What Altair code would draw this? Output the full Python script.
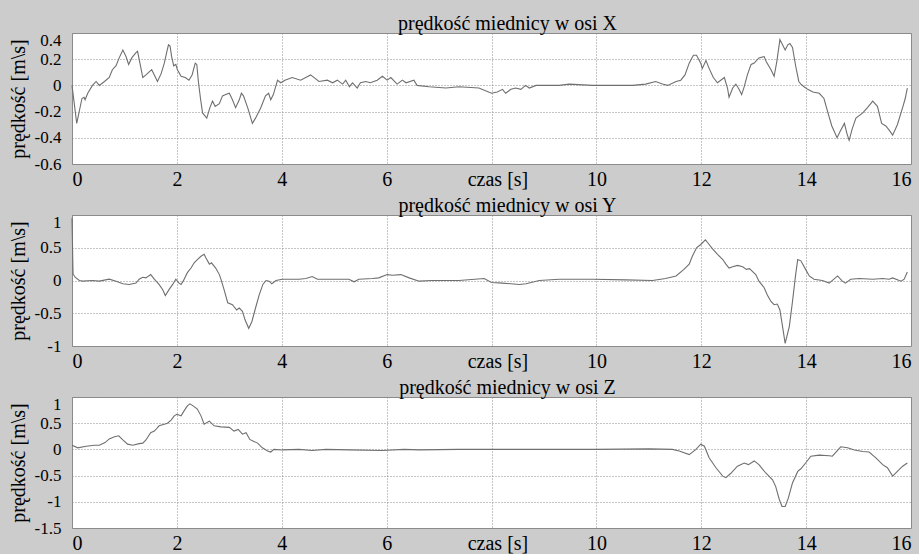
import altair as alt
import pandas as pd

# ---------- data ----------
x_ticks = [0, 2, 4, 6, 8, 10, 12, 14, 16]

titles = ["prędkość miednicy w osi X", "prędkość miednicy w osi Y", "prędkość miednicy w osi Z"]
y_title = "prędkość [m\\s]"
x_title_label = "czas [s]"

yticks_x = [-0.6, -0.4, -0.2, 0, 0.2, 0.4]
yticks_y = [-1, -0.5, 0, 0.5, 1]
yticks_z = [-1.5, -1, -0.5, 0, 0.5, 1]

t_x = [0.00, 0.09, 0.19, 0.23, 0.25, 0.30, 0.39, 0.46, 0.52, 0.62, 0.71, 0.77, 0.84, 0.90, 0.97,
       1.03, 1.08, 1.14, 1.22, 1.25, 1.30, 1.35, 1.41, 1.52, 1.57, 1.63, 1.70, 1.76, 1.81, 1.84,
       1.87, 1.90, 1.94, 1.98, 2.01, 2.08, 2.16, 2.23, 2.29, 2.35, 2.38, 2.41, 2.45, 2.49, 2.57,
       2.63, 2.68, 2.73, 2.81, 2.87, 2.93, 3.00, 3.06, 3.12, 3.19, 3.23, 3.27, 3.35, 3.44, 3.50,
       3.60, 3.69, 3.75, 3.79, 3.84, 3.92, 3.98, 4.06, 4.20, 4.36, 4.55, 4.71, 4.87, 4.97, 5.06,
       5.16, 5.22, 5.29, 5.35, 5.44, 5.50, 5.60, 5.69, 5.82, 5.92, 6.01, 6.08, 6.20, 6.30, 6.37,
       6.52, 6.58, 6.81, 7.13, 7.38, 7.76, 8.00, 8.11, 8.21, 8.27, 8.37, 8.46, 8.56, 8.65, 8.72,
       8.85, 9.29, 9.48, 9.93, 10.30, 10.69, 10.94, 11.13, 11.26, 11.36, 11.52, 11.61, 11.69, 11.77,
       11.85, 11.91, 11.99, 12.02, 12.09, 12.15, 12.23, 12.31, 12.44, 12.50, 12.53, 12.60, 12.66,
       12.72, 12.77, 12.82, 12.88, 12.95, 13.01, 13.10, 13.20, 13.24, 13.33, 13.39, 13.44, 13.50,
       13.55, 13.60, 13.65, 13.69, 13.74, 13.80, 13.86, 13.90, 13.96, 14.03, 14.13, 14.25, 14.34,
       14.41, 14.49, 14.59, 14.65, 14.73, 14.78, 14.82, 14.88, 14.95, 15.08, 15.17, 15.27, 15.36,
       15.44, 15.52, 15.58, 15.65, 15.74, 15.84, 15.89, 15.93]
v_x = [0.00, -0.29, -0.10, -0.09, -0.11, -0.06, 0.00, 0.03, 0.00, 0.03, 0.06, 0.12, 0.15, 0.21, 0.27,
       0.22, 0.16, 0.21, 0.25, 0.26, 0.16, 0.06, 0.08, 0.12, 0.08, 0.03, 0.09, 0.17, 0.26, 0.31,
       0.30, 0.22, 0.15, 0.16, 0.12, 0.07, 0.06, 0.04, 0.08, 0.17, 0.16, 0.03, -0.10, -0.21, -0.25,
       -0.17, -0.12, -0.16, -0.14, -0.08, -0.07, -0.06, -0.11, -0.17, -0.11, -0.06, -0.08, -0.17, -0.29, -0.25,
       -0.17, -0.08, -0.06, -0.11, -0.07, 0.04, 0.02, 0.04, 0.06, 0.04, 0.08, 0.03, 0.04, 0.02, 0.04,
       0.01, 0.04, -0.01, 0.02, -0.02, 0.02, 0.03, 0.02, 0.04, 0.07, 0.04, 0.06, 0.01, 0.04, 0.02,
       0.04, 0.00, -0.01, -0.02, -0.01, -0.02, -0.06, -0.05, -0.03, -0.06, -0.03, -0.02, -0.03, 0.00, -0.02,
       0.00, 0.00, 0.01, 0.00, 0.00, 0.00, 0.01, 0.03, 0.01, 0.00, 0.03, 0.04, 0.08, 0.17,
       0.23, 0.23, 0.17, 0.13, 0.19, 0.13, 0.06, 0.02, 0.06, -0.02, -0.09, -0.02, 0.01,
       -0.03, -0.07, -0.01, 0.08, 0.16, 0.17, 0.21, 0.22, 0.18, 0.12, 0.07, 0.18, 0.35,
       0.31, 0.27, 0.31, 0.32, 0.29, 0.15, 0.03, 0.01, -0.01, -0.03, -0.05, -0.06, -0.10,
       -0.20, -0.31, -0.40, -0.35, -0.29, -0.37, -0.42, -0.33, -0.25, -0.21, -0.17, -0.12, -0.16,
       -0.29, -0.31, -0.34, -0.38, -0.30, -0.17, -0.10, -0.02]

t_y = [0.00, 0.02, 0.06, 0.14, 0.20, 0.39, 0.52, 0.71, 0.84, 0.97, 1.09, 1.22, 1.28, 1.35, 1.41,
       1.50, 1.57, 1.66, 1.73, 1.78, 1.85, 1.92, 1.98, 2.04, 2.08, 2.12, 2.20, 2.27, 2.33, 2.39,
       2.46, 2.52, 2.55, 2.62, 2.66, 2.74, 2.81, 2.84, 2.90, 2.97, 3.06, 3.14, 3.19, 3.25, 3.30,
       3.37, 3.43, 3.50, 3.57, 3.64, 3.70, 3.76, 3.81, 3.89, 4.01, 4.33, 4.46, 4.58, 4.68, 4.97,
       5.28, 5.38, 5.47, 5.73, 5.85, 6.01, 6.11, 6.27, 6.43, 6.62, 6.87, 7.38, 7.86, 8.00, 8.21,
       8.53, 8.66, 8.91, 9.29, 9.93, 10.56, 11.07, 11.32, 11.52, 11.67, 11.77, 11.83, 11.91, 11.99,
       12.08, 12.12, 12.22, 12.31, 12.41, 12.47, 12.53, 12.60, 12.69, 12.79, 12.86, 12.92, 13.04,
       13.10, 13.20, 13.26, 13.33, 13.39, 13.45, 13.50, 13.55, 13.60, 13.68, 13.74, 13.80, 13.84,
       13.90, 13.99, 14.06, 14.15, 14.31, 14.44, 14.53, 14.60, 14.69, 14.75, 14.85, 15.01, 15.27,
       15.46, 15.58, 15.65, 15.81, 15.87, 15.93]
v_y = [0.95, 0.10, 0.05, 0.00, -0.01, 0.00, -0.01, 0.02, -0.01, -0.05, -0.06, -0.04, 0.02, 0.05, 0.04,
       0.09, 0.02, -0.06, -0.14, -0.23, -0.14, -0.06, 0.02, -0.04, -0.06, -0.01, 0.12, 0.19, 0.27, 0.32,
       0.37, 0.40, 0.35, 0.25, 0.27, 0.19, 0.09, 0.02, -0.14, -0.34, -0.37, -0.45, -0.42, -0.47, -0.60,
       -0.73, -0.63, -0.42, -0.22, -0.06, 0.00, -0.01, -0.05, 0.00, 0.02, 0.02, 0.03, 0.06, 0.02, 0.02,
       0.02, -0.02, 0.02, 0.03, 0.04, 0.09, 0.08, 0.09, 0.04, -0.01, 0.00, 0.00, 0.03, -0.03, -0.04,
       -0.06, -0.05, 0.00, 0.02, 0.02, 0.01, 0.00, 0.03, 0.07, 0.17, 0.25, 0.37, 0.50, 0.55,
       0.62, 0.58, 0.48, 0.40, 0.32, 0.25, 0.19, 0.21, 0.23, 0.21, 0.17, 0.18, 0.09,
       -0.01, -0.11, -0.22, -0.32, -0.37, -0.36, -0.45, -0.70, -0.96, -0.70, -0.32, 0.09, 0.32,
       0.30, 0.17, 0.07, 0.02, 0.00, -0.04, 0.02, 0.07, -0.01, -0.04, 0.02, 0.03, 0.02,
       0.03, 0.02, 0.04, -0.01, 0.02, 0.13]

t_z = [0.00, 0.11, 0.27, 0.43, 0.52, 0.63, 0.71, 0.81, 0.89, 0.97, 1.06, 1.16, 1.28, 1.35, 1.41,
       1.50, 1.57, 1.60, 1.66, 1.76, 1.82, 1.89, 1.95, 2.00, 2.08, 2.14, 2.20, 2.25, 2.31, 2.39,
       2.46, 2.52, 2.62, 2.71, 2.84, 3.00, 3.09, 3.17, 3.25, 3.32, 3.39, 3.45, 3.54, 3.63, 3.73,
       3.79, 3.85, 4.01, 4.33, 4.58, 4.84, 5.28, 5.92, 6.33, 6.62, 7.38, 8.00, 9.00, 10.00, 11.00,
       11.45, 11.58, 11.77, 11.90, 11.99, 12.06, 12.15, 12.28, 12.41, 12.47, 12.56, 12.69, 12.82,
       12.90, 13.01, 13.10, 13.23, 13.36, 13.42, 13.49, 13.54, 13.60, 13.66, 13.74, 13.84, 13.90,
       13.99, 14.09, 14.25, 14.44, 14.50, 14.57, 14.66, 14.79, 14.92, 15.08, 15.20, 15.33, 15.46,
       15.55, 15.65, 15.74, 15.84, 15.93]
v_z = [0.08, 0.03, 0.06, 0.08, 0.08, 0.13, 0.20, 0.24, 0.26, 0.18, 0.10, 0.08, 0.11, 0.12, 0.18,
       0.32, 0.35, 0.38, 0.45, 0.48, 0.50, 0.56, 0.64, 0.67, 0.64, 0.74, 0.83, 0.87, 0.83, 0.77,
       0.64, 0.48, 0.54, 0.45, 0.43, 0.42, 0.35, 0.38, 0.29, 0.32, 0.19, 0.16, 0.12, 0.03, -0.03,
       -0.05, 0.00, -0.01, 0.00, -0.02, 0.00, -0.01, -0.02, 0.00, -0.01, 0.00, 0.00, 0.00, 0.00, 0.01,
       0.00, -0.03, -0.10, 0.00, 0.10, 0.06, -0.16, -0.35, -0.51, -0.54, -0.46, -0.32, -0.26,
       -0.29, -0.22, -0.29, -0.45, -0.58, -0.71, -0.96, -1.09, -1.09, -0.93, -0.64, -0.42, -0.37,
       -0.26, -0.13, -0.11, -0.12, -0.13, -0.05, 0.05, 0.03, -0.01, -0.04, -0.05, -0.16, -0.29,
       -0.35, -0.51, -0.42, -0.32, -0.26]

# ---------- styling ----------
FONT = "Liberation Serif"
LINE = "#6f6f6f"
GRID = "#8c8c8c"


def panel(t, v, title, yticks):
    df = pd.DataFrame({"t": t, "v": v})
    top = yticks[-1]
    return (
        alt.Chart(
            df,
            title=alt.Title(
                title, font=FONT, fontSize=20, fontWeight="normal", color="black",
                anchor="middle", offset=3, dx=16, dy=26, baseline="bottom",
            ),
        )
        .mark_line(color=LINE, strokeWidth=1.1)
        .encode(
            x=alt.X(
                "t:Q",
                scale=alt.Scale(domain=[0, 16], nice=False, zero=False),
                axis=alt.Axis(
                    values=x_ticks, title=None, grid=True, gridColor=GRID,
                    gridDash=[1, 2], gridWidth=1, domain=False, ticks=False,
                    labelFont=FONT, labelFontSize=20, labelColor="black",
                    labelPadding=5, labelFlush=True,
                    labelOffset={"condition": {"test": "datum.value == 8", "value": 6}, "value": 0},
                    labelExpr=f"datum.value == 8 ? '{x_title_label}' : toString(datum.value)",
                ),
            ),
            y=alt.Y(
                "v:Q",
                scale=alt.Scale(domain=[yticks[0], top], nice=False, zero=False),
                axis=alt.Axis(
                    values=yticks, title=y_title, grid=True, gridColor=GRID,
                    gridDash=[1, 2], gridWidth=1, domain=False, ticks=False,
                    labelFont=FONT, labelFontSize=17, labelColor="black",
                    labelPadding=11,
                    labelOffset={"condition": {"test": f"datum.value == {top}", "value": 7}, "value": 0},
                    labelExpr="toString(round(datum.value * 10) / 10)",
                    titleFont=FONT, titleFontSize=20, titleFontWeight="normal",
                    titleColor="black", titlePadding=6,
                ),
            ),
        )
        .properties(width=839, height=131)
    )


chart = (
    alt.vconcat(
        panel(t_x, v_x, titles[0], yticks_x),
        panel(t_y, v_y, titles[1], yticks_y),
        panel(t_z, v_z, titles[2], yticks_z),
        spacing=51,
        bounds="flush",
    )
    .properties(padding={"left": 7, "top": 13, "right": 7, "bottom": 2})
    .configure(background="#cccccc")
    .configure_view(fill="white", stroke="#8a8a8a", strokeWidth=1)
)

chart.save("out.html", embed_options={"renderer": "svg", "actions": False})
